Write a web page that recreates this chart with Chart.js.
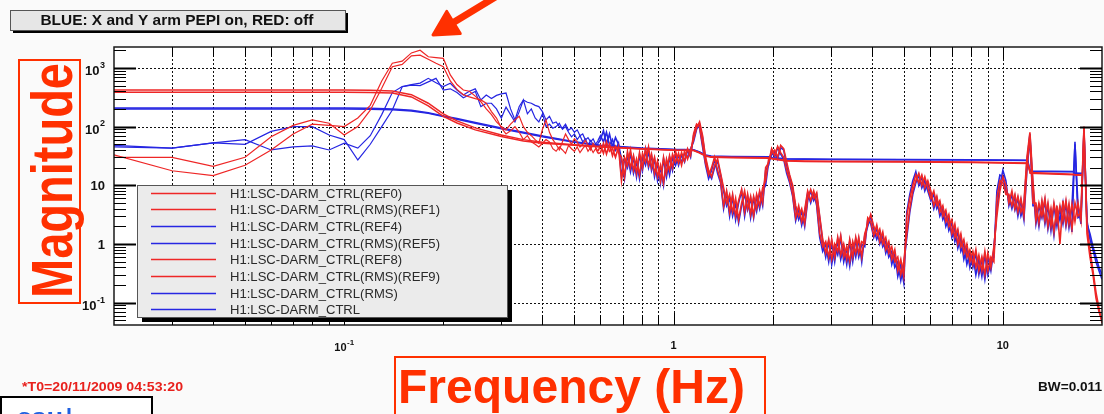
<!DOCTYPE html>
<html>
<head>
<meta charset="utf-8">
<script src="https://cdn.jsdelivr.net/npm/chart.js@4.4.1/dist/chart.umd.min.js"></script>
<style>
  html, body { margin: 0; padding: 0; background: #fafafa; overflow: hidden; }
  #wrap { width: 1104px; height: 414px; position: relative; }
</style>
</head>
<body>
<div id="wrap"><canvas id="c" width="1104" height="414"></canvas></div>
<script>
// ---- DARM_CTRL spectra and their cumulative RMS ----

// low-frequency bins, 0.01 Hz apart
const lowFreqs = [0.02,0.03,0.04,0.05,0.06,0.07,0.08,0.09,0.10,0.11,0.12,0.13,0.14,0.15,0.16,0.17,0.18,0.19,0.20,0.21,
  0.22,0.23,0.24,0.25,0.26,0.27,0.28,0.29,0.30,0.31,0.32,0.33,0.34,0.35,0.36,0.37,0.38,0.39,0.40,0.41,
  0.42,0.43,0.44,0.45,0.46,0.47,0.48,0.49,0.50,0.51,0.52,0.53,0.54,0.55,0.56,0.57,0.58,0.59];

// upper band is sampled on a log grid between these limits
const hiStart = 0.6, hiEnd = 20;

// spectra below 0.6 Hz
const ref0Low = [33,17.7,14.6,22,40,75,110,105,100,140, 230,600,1200,1300,1800,2000,1550,1500,1450,760,
  520,420,400,330,265,200,160,120,100,88, 110,130,150,100,80,70,60,52,90,130,
  80,60,50,40,55,75,60,50,62,55, 45,50,58,48,40,52,45,38];
const ref8Low = [30,30,21,30,67,105,130,114,72,100, 190,450,1050,1150,1600,1650,1400,1200,1050,600,
  430,350,320,300,285,250,180,140,95,75, 85,100,80,60,70,55,50,45,52,60,
  55,42,38,45,40,35,48,42,38,45, 36,42,48,38,44,36,42,35];
const ref4Low = [48,43,53,60,40,45,47,40,52,43, 70,160,380,480,520,550,664,560,479,546,
  420,345,400,440,284,345,300,340,360,373, 200,130,220,284,260,250,230,219,180,130,
  150,114,120,100,94,110,87,95,80,88, 70,75,59,65,55,62,50,58];
const nowLow = [45,43,53,50,83,100,100,72,60,27, 50,100,192,479,510,500,578,664,420,440,
  380,310,350,400,219,250,250,200,140,215, 160,120,180,284,165,200,140,120,165,100,
  110,94,100,114,90,100,80,67,75,60, 70,55,62,48,58,50,45,52];

// spectra from 0.6 Hz to 20 Hz, PEPI off (red)
const ref0High = [48,35,55,38,42,30,45,
  12,30,22,40,18,28,15,35,25,45,20,30,14,22,11,28,18,34,
  25,35,22,38,28,40, 60,95,120, 70,30,18,14, 22,28,16,
  9,5,7,3.5,6,2.6,5,8,4,6.5,3,7,4.5,9,
  12,28,35, 40,30,48,42, 25,15,10, 4.5,3,4,2.2, 6,8.5,6,7.5, 3,1.2,
  0.7,1.2,0.55,1.0,0.75,1.4,0.6,0.9,0.5,1.1,0.7,1.3,0.6,
  1.5,2.2,3.2, 2.0,1.4,1.8,1.0,1.3,0.7,0.9,0.5,0.6,0.3,0.5,
  1.5,4,8,12, 16,10,14,9,
  6,8,4.5,5.5,3,3.8,2,2.6,1.3,1.8,0.9,1.2,0.6,0.8,
  0.45,0.8,0.35,0.6,0.3,0.7,0.4,0.9, 3,8,14,10, 5,8,4,6.5,3.5,5, 30,80,12,
  2.5,5,3,6,2,4,1.6,4.5,1.0,5.5,2.2,4.8,1.8,5,3, 3.5, 100,
  2,0.8,0.35,0.15,0.08,0.045];
const ref8High = [36,52,34,50,32,46,36,
  30,14,38,20,32,16,36,20,42,22,34,16,26,12,30,16,32,20,
  38,24,36,26,42,32, 75,110,100, 50,24,15,20, 30,18,12,
  4.5,8,3.5,7,3,5.5,8.5,3.5,7,3.2,6.5,4,8,5,
  20,24,42, 32,46,36,30, 18,12,7, 2.8,4.5,2.4,3.8, 8,5.5,8,5, 1.5,0.9,
  1.1,0.6,1.2,0.6,1.3,0.65,1.0,0.55,1.2,0.6,1.3,0.7,1.1,
  1.0,2.8,2.4, 1.4,2.1,1.1,1.6,0.8,1.1,0.55,0.8,0.35,0.55,0.28,
  3,6,10,15, 11,15,9,12,
  8,4.5,6.5,3.5,4.5,2.4,3.2,1.5,2.2,1.0,1.5,0.7,1.0,0.5,
  0.75,0.4,0.65,0.35,0.75,0.35,0.6,0.5, 6,12,11,7, 7,4.5,7,3.5,6,3, 20,70,5,
  5,2.3,5.5,2.5,5,2,5,2.4,4.5,2.5,5.5,2.2,4.8,2.4,5, 2.5, 95,
  1.5,0.6,0.3,0.12,0.07,0.05];

// spectra from 0.6 Hz to 20 Hz, PEPI on (blue)
const ref4High = [70,55,80,48,60,40,52,
  14,28,20,35,16,25,13,30,22,38,18,28,12,20,10,26,15,30,
  22,32,25,35,30,42, 55,90,110, 65,28,16,13, 20,26,15,
  8,4.5,6,3,5,2.3,4.5,7,3.8,6,2.8,6.5,4,8,
  10,25,33, 38,28,44,40, 22,14,9, 4,2.6,3.6,2, 5.5,8,5.5,7, 2.8,1.1,
  0.6,1.1,0.45,0.9,0.65,1.3,0.5,0.85,0.42,1.0,0.6,1.2,0.5,
  1.4,2.0,3.0, 1.8,1.2,1.6,0.9,1.1,0.6,0.75,0.4,0.5,0.24,0.45,
  1.3,3.5,7,11, 15,9,12,8,
  5.5,7,4,5,2.6,3.4,1.7,2.3,1.1,1.6,0.75,1.0,0.45,0.7,
  0.4,0.7,0.3,0.55,0.25,0.6,0.35,0.8, 4,10,18,12, 4.5,7,3.8,6,3,4.5, 25,75,10,
  2.2,4.5,2.8,5.5,1.8,3.6,1.4,4,2.5,5,2,4.3,1.6,55,2.8, 3, 85,
  2.5,1.2,0.8,0.5,0.35,0.25];
const nowHigh = [60,85,50,75,45,65,50,
  28,13,34,17,30,14,33,18,40,20,32,14,24,11,28,14,30,18,
  34,22,33,25,40,30, 70,105,95, 45,22,13,18, 28,16,11,
  4,7.5,3,6.5,2.6,5,8,3,6.5,2.8,6,3.6,7.5,4.5,
  18,22,40, 30,44,34,28, 16,11,6.5, 2.5,4,2.1,3.4, 7.5,5,7.5,4.5, 1.3,0.75,
  1.0,0.5,1.1,0.5,1.2,0.55,0.9,0.45,1.1,0.5,1.2,0.6,1.0,
  0.9,2.6,2.2, 1.3,1.9,1.0,1.4,0.7,1.0,0.45,0.7,0.28,0.45,0.22,
  3.5,7,12,17, 10,14,8,11,
  7,4,6,3,4,2,2.8,1.3,1.9,0.85,1.3,0.55,0.85,0.4,
  0.65,0.3,0.55,0.28,0.65,0.3,0.5,0.6, 8,15,14,8, 6.5,4,6.5,3,5.5,2.6, 18,65,4.5,
  4.5,2,5,2.2,4.5,1.7,4.5,2,4,2.2,5,1.9,4.3,50,4.5, 2.2, 80,
  2.2,1.5,0.9,0.6,0.4,0.3];

// cumulative RMS traces
const rmsFreqs = [0.02,0.1,0.12,0.14,0.16,0.18,0.2,0.22,0.25,0.3,0.35,0.4,0.5,0.6,0.8,1.0,1.15,1.2,1.25,1.3,
  1.5,1.95,2.0,2.2,2.5,3,5,8,11.9,12.0,12.1,16.4,16.5,17.4];
const rmsRef1 = [420,420,415,405,350,250,165,125,95,72,60,54,49,46,42,40,39.5,36,32,30.5,
  30,29.5,28.5,26.5,26,25.8,25.5,25,24,20,16.5,15.5,15.3,15];
const rmsRef9 = [385,385,382,375,320,225,150,115,88,68,57,52,48,45,41.5,39.5,39,35.5,31.5,30,
  29.5,29,28,26,25.5,25.3,25,24.5,23.5,19.5,16,15.2,15,14.8];
const rmsRef5 = [208,208,206,200,190,172,152,137,117,95,80,69,55,48,43,41,40.5,37,33,31.5,
  31,30.5,29.5,28.2,28,27.8,27.6,27.3,26.8,21,17.5,17.2,16.2,16];
const rmsNow = [200,200,198,193,184,168,148,133,114,92,78,67,54,47,42.5,40.5,40,36.5,32.5,31,
  30.5,30,29,28,27.7,27.5,27.3,27,26.5,20.5,17.2,17,16,15.8];

// axis labels
const xLabels = [{v: 0.1, base: '10', exp: '-1'}, {v: 1, base: '1'}, {v: 10, base: '10'}];
const yLabels = [{v: 1000, base: '10', exp: '3'}, {v: 100, base: '10', exp: '2'}, {v: 10, base: '10'},
                 {v: 1, base: '1'}, {v: 0.1, base: '10', exp: '-1'}];

const RED = 'rgb(238,38,38)';
const BLUE = 'rgb(38,38,226)';

function logGrid(a, b, n) {
  const out = [];
  for (let i = 0; i < n; i++) out.push(a * Math.pow(b / a, i / (n - 1)));
  return out;
}
function pts(xs, ys) { return ys.map((y, i) => ({x: xs[i], y})); }

const hiFreqs = logGrid(hiStart, hiEnd, ref0High.length);
const specFreqs = lowFreqs.concat(hiFreqs);
const nLow = lowFreqs.length;

// the dense upper band is drawn a little heavier
const specSegment = {borderWidth: c => (c.p0DataIndex >= nLow - 1 ? 1.6 : 1.2)};

const traces = [
  {label: 'H1:LSC-DARM_CTRL(REF0)', xs: specFreqs, ys: ref0Low.concat(ref0High), color: RED, rms: false, order: 1},
  {label: 'H1:LSC-DARM_CTRL(RMS)(REF1)', xs: rmsFreqs, ys: rmsRef1, color: RED, rms: true, order: 0},
  {label: 'H1:LSC-DARM_CTRL(REF4)', xs: specFreqs, ys: ref4Low.concat(ref4High), color: BLUE, rms: false, order: 3},
  {label: 'H1:LSC-DARM_CTRL(RMS)(REF5)', xs: rmsFreqs, ys: rmsRef5, color: BLUE, rms: true, order: 2},
  {label: 'H1:LSC-DARM_CTRL(REF8)', xs: specFreqs, ys: ref8Low.concat(ref8High), color: RED, rms: false, order: 1},
  {label: 'H1:LSC-DARM_CTRL(RMS)(REF9)', xs: rmsFreqs, ys: rmsRef9, color: RED, rms: true, order: 0},
  {label: 'H1:LSC-DARM_CTRL(RMS)', xs: rmsFreqs, ys: rmsNow, color: BLUE, rms: true, order: 2},
  {label: 'H1:LSC-DARM_CTRL', xs: specFreqs, ys: nowLow.concat(nowHigh), color: BLUE, rms: false, order: 3}
];

const datasets = traces.map(t => ({
  label: t.label,
  data: pts(t.xs, t.ys),
  borderColor: t.color,
  borderWidth: t.rms ? 1.5 : 1.2,
  segment: t.rms ? undefined : specSegment,
  order: t.order,
  pointRadius: 0,
  tension: 0,
  fill: false
}));

// tick positions for a log axis: 1..9 times each decade inside [lo, hi]
function logSteps(lo, hi) {
  const out = [];
  for (let e = -3; e <= 4; e++) {
    for (let m = 1; m <= 9; m++) {
      const v = +(m * Math.pow(10, e)).toPrecision(3);
      if (v > lo * 1.0001 && v < hi * 0.9999) out.push({v, major: m === 1});
    }
  }
  return out;
}

function fitText(ctx, text, x, y, width, font, color, align) {
  ctx.save();
  ctx.font = font;
  ctx.fillStyle = color;
  ctx.textBaseline = 'alphabetic';
  ctx.textAlign = 'left';
  const w = ctx.measureText(text).width;
  const s = width / w;
  let x0 = x;
  if (align === 'center') x0 = x - width / 2;
  if (align === 'right') x0 = x - width;
  ctx.translate(x0, y);
  ctx.scale(s, 1);
  ctx.fillText(text, 0, 0);
  ctx.restore();
}

function powText(ctx, lab, x, y, align, size) {
  ctx.save();
  ctx.fillStyle = '#111';
  ctx.textBaseline = 'alphabetic';
  ctx.textAlign = 'left';
  const fb = 'bold ' + size + 'px "Liberation Sans", Arial, sans-serif';
  const fe = 'bold ' + Math.round(size * 0.7) + 'px "Liberation Sans", Arial, sans-serif';
  ctx.font = fb;
  const wb = ctx.measureText(lab.base).width;
  let we = 0;
  if (lab.exp) { ctx.font = fe; we = ctx.measureText(lab.exp).width + 0.5; }
  const total = wb + we;
  const x0 = align === 'center' ? x - total / 2 : x - total;
  ctx.font = fb;
  ctx.fillText(lab.base, x0, y + (lab.exp ? 2 : 0));
  if (lab.exp) {
    ctx.font = fe;
    ctx.fillText(lab.exp, x0 + wb + 0.5, y - size * 0.4);
  }
  ctx.restore();
}

const decorations = {
  id: 'decorations',
  beforeDraw(chart) {
    const {ctx, chartArea: a} = chart;
    ctx.save();
    ctx.fillStyle = '#fafafa';
    ctx.fillRect(0, 0, chart.width, chart.height);
    ctx.fillStyle = '#ffffff';
    ctx.fillRect(a.left, a.top, a.right - a.left, a.bottom - a.top);
    ctx.restore();
  },
  beforeDatasetsDraw(chart) {
    const {ctx, chartArea: a, scales: {x, y}} = chart;
    ctx.save();
    ctx.strokeStyle = '#111';
    ctx.lineWidth = 1;
    ctx.setLineDash([2, 2]);
    logSteps(x.min, x.max).forEach(t => {
      const px = Math.round(x.getPixelForValue(t.v)) + 0.5;
      ctx.beginPath(); ctx.moveTo(px, a.top); ctx.lineTo(px, a.bottom); ctx.stroke();
    });
    logSteps(y.min, y.max).filter(t => t.major).forEach(t => {
      const py = Math.round(y.getPixelForValue(t.v)) + 0.5;
      ctx.beginPath(); ctx.moveTo(a.left, py); ctx.lineTo(a.right, py); ctx.stroke();
    });
    ctx.restore();
  },
  afterDatasetsDraw(chart) {
    const {ctx, chartArea: a, scales: {x, y}} = chart;
    ctx.save();

    // frame and inward ticks
    ctx.strokeStyle = '#1a1a1a';
    ctx.lineWidth = 1.5;
    ctx.strokeRect(a.left, a.top, a.right - a.left, a.bottom - a.top);
    ctx.lineWidth = 1;
    ctx.strokeStyle = '#000';
    logSteps(x.min, x.max).forEach(t => {
      const px = Math.round(x.getPixelForValue(t.v)) + 0.5;
      const len = t.major ? 12 : 10;
      ctx.beginPath();
      ctx.moveTo(px, a.top); ctx.lineTo(px, a.top + len);
      ctx.moveTo(px, a.bottom); ctx.lineTo(px, a.bottom - len);
      ctx.stroke();
    });
    logSteps(y.min, y.max).forEach(t => {
      const py = Math.round(y.getPixelForValue(t.v)) + 0.5;
      const len = t.major ? 22 : 12;
      ctx.lineWidth = t.major ? 2 : 1;
      ctx.beginPath();
      ctx.moveTo(a.left, py); ctx.lineTo(a.left + len, py);
      ctx.moveTo(a.right, py); ctx.lineTo(a.right - len, py);
      ctx.stroke();
    });

    // tick labels
    xLabels.forEach(l => powText(ctx, l, x.getPixelForValue(l.v), a.bottom + 24, 'center', 11));
    yLabels.forEach(l => powText(ctx, l, 105, y.getPixelForValue(l.v) + 5, 'right', 13));

    // legend box
    const lx = 137, ly = 185, lw = 370, lh = 132;
    ctx.fillStyle = '#000';
    ctx.fillRect(lx + 5, ly + 5, lw, lh);
    ctx.fillStyle = '#ebebeb';
    ctx.fillRect(lx, ly, lw, lh);
    ctx.strokeStyle = '#555';
    ctx.lineWidth = 1;
    ctx.strokeRect(lx + 0.5, ly + 0.5, lw, lh);
    const lfont = '13px "Liberation Sans", Arial, sans-serif';
    ctx.font = lfont;
    const longest = Math.max(...traces.map(t => ctx.measureText(t.label).width));
    const sc = 210 / longest;
    traces.forEach((t, i) => {
      const yy = Math.round(ly + 7.5 + i * 16.7) + 0.5;
      ctx.save();
      ctx.strokeStyle = t.color;
      ctx.lineWidth = 1.3;
      ctx.beginPath(); ctx.moveTo(151, yy); ctx.lineTo(216, yy); ctx.stroke();
      ctx.restore();
      ctx.font = lfont;
      const w = ctx.measureText(t.label).width * sc;
      fitText(ctx, t.label, 230, yy + 4.5, w, lfont, '#2a2a2a', 'left');
    });

    // caption box at top
    ctx.fillStyle = '#000';
    ctx.fillRect(13, 13, 335, 20);
    ctx.fillStyle = '#e6e6e6';
    ctx.fillRect(10, 10, 335, 20);
    ctx.strokeStyle = '#555';
    ctx.lineWidth = 1;
    ctx.strokeRect(10.5, 10.5, 335, 20);
    fitText(ctx, 'BLUE: X and Y arm PEPI on, RED: off', 177, 25, 273,
      'bold 14px "Liberation Sans", Arial, sans-serif', '#111', 'center');

    // axis titles
    const orange = 'rgb(255,48,0)';
    ctx.strokeStyle = orange;
    ctx.lineWidth = 2;
    ctx.strokeRect(19, 60, 61, 243);
    ctx.save();
    ctx.translate(72, 298);
    ctx.rotate(-Math.PI / 2);
    fitText(ctx, 'Magnitude', 0, 0, 235, 'bold 58px "Liberation Sans", Arial, sans-serif', orange, 'left');
    ctx.restore();
    ctx.strokeRect(395, 357, 370, 70);
    fitText(ctx, 'Frequency (Hz)', 398, 403, 347, 'bold 48px "Liberation Sans", Arial, sans-serif', orange, 'left');

    // footer notes
    fitText(ctx, '*T0=20/11/2009 04:53:20', 22, 391, 161, 'bold 13px "Liberation Sans", Arial, sans-serif', '#e8201c', 'left');
    fitText(ctx, 'BW=0.011', 1038, 391, 64, 'bold 13px "Liberation Sans", Arial, sans-serif', '#111', 'left');

    // small window at lower left
    ctx.fillStyle = '#ffffff';
    ctx.fillRect(0, 397, 152, 20);
    ctx.strokeStyle = '#000';
    ctx.lineWidth = 2;
    ctx.strokeRect(1, 397, 151, 20);
    ctx.save();
    ctx.beginPath(); ctx.rect(0, 398, 151, 16); ctx.clip();
    fitText(ctx, 'eau', 17, 423, 46, 'bold 20px "Liberation Sans", Arial, sans-serif', '#2060e0', 'left');
    fitText(ctx, 'l', 66, 423, 6, 'bold 20px "Liberation Sans", Arial, sans-serif', '#2060e0', 'left');
    ctx.restore();

    // arrow pointing at the resonance
    const tip = [433, 35], tail = [497, -4];
    const dx = tip[0] - tail[0], dy = tip[1] - tail[1];
    const L = Math.hypot(dx, dy), ux = dx / L, uy = dy / L;
    const bx = tip[0] - 24 * ux, by = tip[1] - 24 * uy;
    ctx.strokeStyle = orange;
    ctx.fillStyle = orange;
    ctx.lineCap = 'round';
    ctx.lineJoin = 'round';
    ctx.lineWidth = 7;
    ctx.beginPath(); ctx.moveTo(tail[0], tail[1]); ctx.lineTo(bx + 4 * ux, by + 4 * uy); ctx.stroke();
    ctx.lineWidth = 3;
    ctx.beginPath();
    ctx.moveTo(tip[0], tip[1]);
    ctx.lineTo(bx - 13 * uy, by + 13 * ux);
    ctx.lineTo(bx + 13 * uy, by - 13 * ux);
    ctx.closePath();
    ctx.fill(); ctx.stroke();

    ctx.restore();
  }
};

new Chart(document.getElementById('c'), {
  type: 'line',
  data: {datasets},
  options: {
    responsive: false,
    animation: false,
    devicePixelRatio: 1,
    layout: {padding: {left: 114, top: 47, right: 2, bottom: 89}},
    plugins: {legend: {display: false}, tooltip: {enabled: false}},
    scales: {
      x: {
        type: 'logarithmic', min: 0.02, max: 20,
        grid: {display: false}, border: {display: false}, ticks: {display: false},
        afterFit(s) { s.height = 0; }
      },
      y: {
        type: 'logarithmic', min: 0.0417, max: 2270,
        grid: {display: false}, border: {display: false}, ticks: {display: false},
        afterFit(s) { s.width = 0; }
      }
    }
  },
  plugins: [decorations]
});
</script>
</body>
</html>
